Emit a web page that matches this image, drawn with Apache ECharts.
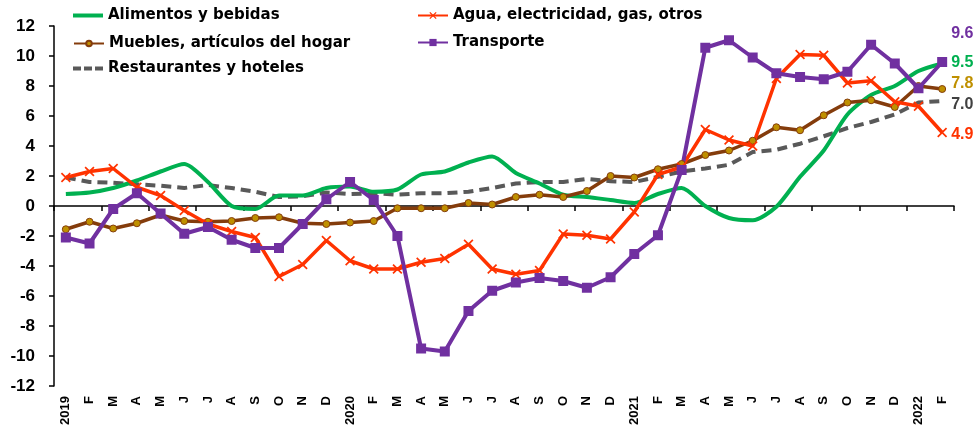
<!DOCTYPE html>
<html>
<head>
<meta charset="utf-8">
<script src="https://cdn.jsdelivr.net/npm/echarts@6/dist/echarts.min.js"></script>
<style>
  html, body { margin: 0; padding: 0; background: #fff; }
  #chart { width: 977px; height: 431px; }
</style>
</head>
<body>
<div id="chart"></div>
<script>
    // meses ene-2019 .. feb-2022
    const meses = ['2019','F','M','A','M','J','J','A','S','O','N','D',
                   '2020','F','M','A','M','J','J','A','S','O','N','D',
                   '2021','F','M','A','M','J','J','A','S','O','N','D',
                   '2022','F'];

    const alimentos = [0.8,0.9,1.2,1.7,2.3,2.8,1.6,0.0,-0.2,0.7,0.7,1.2,
                       1.3,0.95,1.1,2.1,2.3,2.9,3.3,2.2,1.5,0.75,0.6,0.4,
                       0.2,0.8,1.2,0.0,-0.8,-0.95,-0.05,1.95,3.7,6.1,7.4,8.0,
                       9.0,9.5];
    const agua = [1.9,2.3,2.5,1.25,0.7,-0.3,-1.2,-1.7,-2.1,-4.7,-3.9,-2.3,
                  -3.65,-4.2,-4.2,-3.75,-3.5,-2.55,-4.2,-4.55,-4.3,-1.87,-1.95,-2.2,
                  -0.4,2.1,2.6,5.1,4.4,4.0,8.5,10.1,10.05,8.2,8.35,6.95,
                  6.65,4.9];
    const muebles = [-1.55,-1.05,-1.5,-1.15,-0.6,-1.0,-1.05,-1.0,-0.8,-0.75,-1.15,-1.2,
                     -1.1,-1.0,-0.15,-0.15,-0.15,0.2,0.1,0.6,0.75,0.6,1.0,2.0,
                     1.9,2.45,2.8,3.4,3.7,4.35,5.25,5.05,6.05,6.9,7.05,6.6,
                     8.0,7.8];
    const transporte = [-2.1,-2.5,-0.2,0.85,-0.5,-1.85,-1.4,-2.25,-2.8,-2.8,-1.2,0.45,
                        1.6,0.4,-2.0,-9.5,-9.7,-7.0,-5.65,-5.1,-4.8,-5.0,-5.45,-4.75,
                        -3.2,-1.95,2.4,10.55,11.05,9.9,8.85,8.6,8.45,8.95,10.75,9.5,
                        7.85,9.6];
    const restaurantes = [1.9,1.6,1.55,1.45,1.35,1.2,1.4,1.2,0.95,0.6,0.65,0.9,
                          0.8,0.85,0.75,0.85,0.85,0.95,1.2,1.5,1.6,1.6,1.8,1.65,
                          1.6,1.95,2.3,2.5,2.75,3.6,3.75,4.15,4.65,5.2,5.6,6.1,
                          6.9,7.0];

    const ticksY = { min: -12, max: 12, interval: 2 };

    const cruz = 'path://M0,1.2L1.2,0L5,3.8L8.8,0L10,1.2L6.2,5L10,8.8L8.8,10L5,6.2L1.2,10L0,8.8L3.8,5Z';
    const linea = 'path://M0,0H30V4H0Z';
    const guiones = 'path://M0,0H8V4H0Z M11,0H19V4H11Z M22,0H30V4H22Z';

    // etiqueta del ultimo valor
    function etiquetaFinal(color, dy) {
        return {
            show: true,
            distance: 9,
            offset: [0, dy],
            formatter: (p) => Number(p.value).toFixed(1),
            color: color,
            fontSize: 16,
            fontWeight: 'bold',
            fontFamily: 'Liberation Sans'
        };
    }

    const chart = echarts.init(document.getElementById('chart'));

    const legendText = {
        fontSize: 15,
        fontWeight: 'bold',
        fontFamily: 'DejaVu Sans',
        color: '#000'
    };
    const mkLegend = (item, left, top, h) => ({
        data: [item],
        left: left,
        top: top,
        itemWidth: 30,
        itemHeight: h || 9,
        textStyle: legendText,
        selectedMode: false
    });

    const option = {
        animation: false,
        legend: [
            mkLegend({ name: 'Alimentos y bebidas', icon: linea }, 68, 3, 4),
            mkLegend('Agua, electricidad, gas, otros', 412, 3),
            mkLegend('Muebles, artículos del hogar', 68, 31, 7),
            mkLegend('Transporte', 412, 30),
            mkLegend({ name: 'Restaurantes y hoteles', icon: guiones }, 68, 56, 4)
        ],
        grid: {
            left: 54,
            right: 23,
            top: 26,
            bottom: 45
        },
        xAxis: [
            {
                type: 'category',
                data: meses,
                position: 'bottom',
                axisLine: { show: false, onZero: false },
                axisTick: { show: false },
                axisLabel: {
                    rotate: 90,
                    interval: 0,
                    margin: 10,
                    fontSize: 13,
                    fontWeight: 'bold',
                    fontFamily: 'Liberation Sans',
                    color: '#000'
                }
            },
            {
                type: 'category',
                data: meses,
                position: 'bottom',
                axisLine: { show: true, onZero: true, lineStyle: { color: '#000', width: 1.5 } },
                axisTick: { show: true, length: 5, lineStyle: { color: '#000', width: 1.5 } },
                axisLabel: { show: false }
            }
        ],
        yAxis: {
            type: 'value',
            min: ticksY.min,
            max: ticksY.max,
            interval: ticksY.interval,
            splitLine: { show: false },
            axisLine: { show: true, lineStyle: { color: '#000', width: 1.5 } },
            axisTick: { show: true, length: 5, lineStyle: { color: '#000', width: 1.5 } },
            axisLabel: {
                margin: 19,
                fontSize: 17,
                fontWeight: 'bold',
                fontFamily: 'Liberation Sans',
                color: '#000'
            }
        },
        series: [
            {
                name: 'Restaurantes y hoteles',
                type: 'line',
                data: restaurantes,
                symbol: 'none',
                lineStyle: { color: '#595959', width: 4, type: [10, 6] },
                itemStyle: { color: '#595959' },
                endLabel: etiquetaFinal('#404040', 4)
            },
            {
                name: 'Alimentos y bebidas',
                type: 'line',
                data: alimentos,
                symbol: 'none',
                smooth: 0.25,
                lineStyle: { color: '#00b050', width: 4 },
                itemStyle: { color: '#00b050' },
                endLabel: etiquetaFinal('#00b050', -1)
            },
            {
                name: 'Muebles, artículos del hogar',
                type: 'line',
                data: muebles,
                symbol: 'circle',
                symbolSize: 7,
                lineStyle: { color: '#843c0c', width: 3.5 },
                itemStyle: { color: '#bf9000', borderColor: '#843c0c', borderWidth: 1 },
                endLabel: etiquetaFinal('#bf9000', -5)
            },
            {
                name: 'Agua, electricidad, gas, otros',
                type: 'line',
                data: agua,
                symbol: cruz,
                symbolSize: 10,
                lineStyle: { color: '#ff3300', width: 3.5 },
                itemStyle: { color: '#ff3300' },
                endLabel: etiquetaFinal('#ff3300', 2)
            },
            {
                name: 'Transporte',
                type: 'line',
                data: transporte,
                symbol: 'rect',
                symbolSize: 10,
                lineStyle: { color: '#7030a0', width: 4 },
                itemStyle: { color: '#7030a0' },
                endLabel: etiquetaFinal('#7030a0', -28)
            }
        ]
    };

    chart.setOption(option, true);
</script>
</body>
</html>
